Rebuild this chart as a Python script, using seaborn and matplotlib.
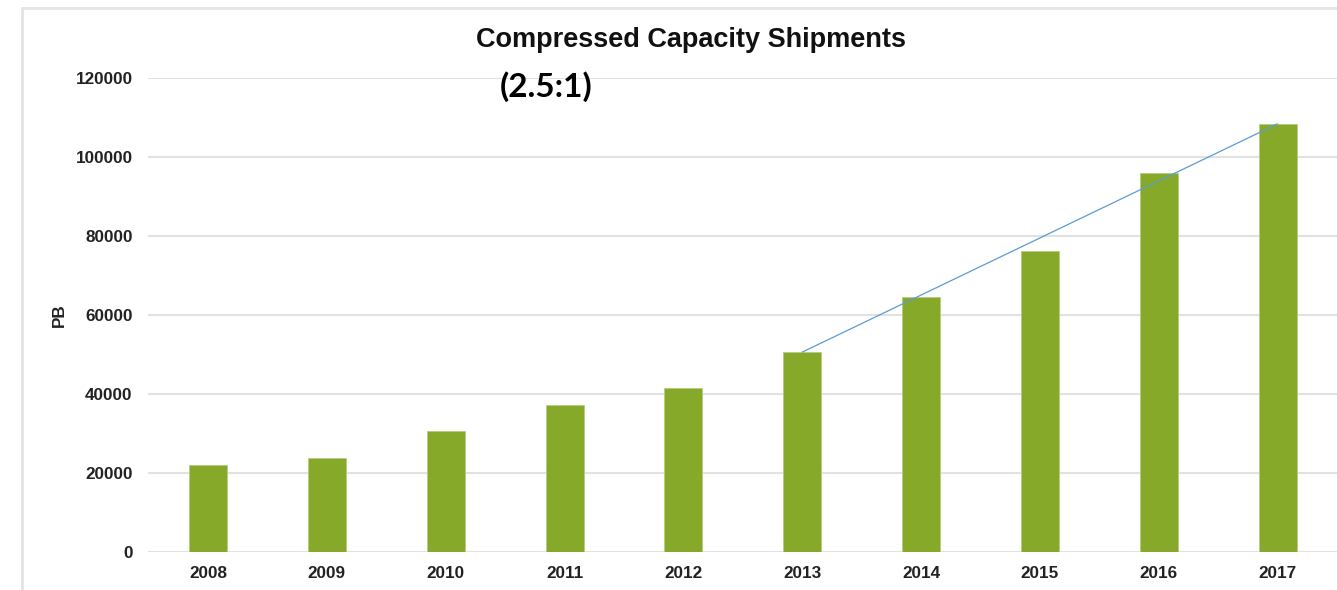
import pandas as pd
import numpy as np
import matplotlib.pyplot as plt
import seaborn as sns
from matplotlib.patches import Rectangle

years = ['2008', '2009', '2010', '2011', '2012', '2013', '2014', '2015', '2016', '2017']
shipments = [22000, 23800, 30600, 37200, 41500, 50600, 64600, 76200, 96000, 108400]
trend_years = ['2013', '2017']
trend_values = [50600, 108400]

df = pd.DataFrame({'year': years, 'PB': shipments})

sns.set_style('white')
plt.rcParams['font.family'] = ['Liberation Sans', 'DejaVu Sans']

fig = plt.figure(figsize=(13.37, 5.90), dpi=100)
ax = fig.add_axes([148 / 1337, 1 - 552 / 590, 1 - 148 / 1337, (552 - 78) / 590])

# light frame around the chart
fig.patches.append(Rectangle((22 / 1337, -0.1), 1.2, 1 - 8 / 590 + 0.1, transform=fig.transFigure,
                             fill=False, edgecolor='#e3e3e3', linewidth=2, zorder=0))

sns.barplot(data=df, x='year', y='PB', color='#86a929', saturation=1, width=0.32,
            edgecolor='#b5cc80', linewidth=0.6, ax=ax, zorder=3)

# trend line
pos = [years.index(y) for y in trend_years]
ax.plot(pos, trend_values, color='#5b9bd5', linewidth=0.9, zorder=4)

ax.set_ylim(0, 120000)
ax.set_xlim(-0.505, 9.5)
ax.set_yticks(range(0, 120001, 20000))
ax.yaxis.grid(True, color='#e2e2e2', linewidth=1.5, zorder=0)
ax.set_axisbelow(True)
for s in ax.spines.values():
    s.set_visible(False)
ax.tick_params(axis='y', length=0, pad=11, labelsize=12.3, labelcolor='#222222')
ax.tick_params(axis='x', length=0, pad=10, labelsize=12.3, labelcolor='#222222')
for lbl in ax.get_xticklabels() + ax.get_yticklabels():
    lbl.set_fontweight('bold')
ax.set_xlabel('')
ax.set_ylabel('PB', fontsize=12.3, fontweight='bold', color='#222222', labelpad=6)

fig.text(691 / 1337, 1 - 40 / 590, 'Compressed Capacity Shipments', ha='center', va='center',
         fontsize=19.5, fontweight='bold', color='#111111')
fig.text(546 / 1337, 1 - 87 / 590, '(2.5:1)', ha='center', va='center',
         fontsize=24, fontweight='bold', color='black', family=['Lato', 'DejaVu Sans'])

fig.savefig('out.png', dpi=100)
